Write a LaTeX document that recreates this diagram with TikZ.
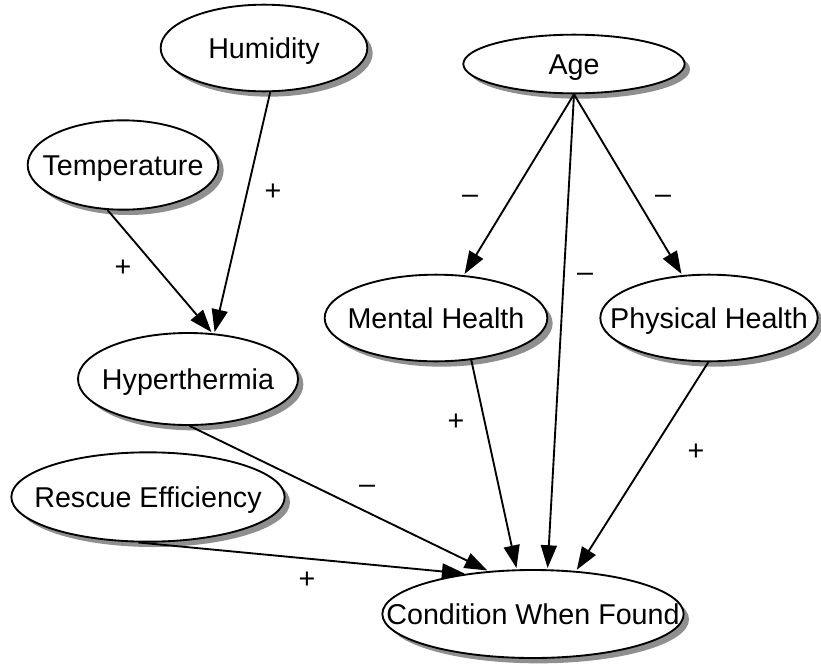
\documentclass[tikz,border=0pt]{standalone}
\usepackage{fontspec}
\setmainfont{Liberation Sans}
\usetikzlibrary{shapes.geometric, shadows, arrows.meta}

\begin{document}
\begin{tikzpicture}[x=0.75pt, y=-0.75pt,
    var/.style={draw, ellipse, fill=white, line width=1.4pt, inner sep=0pt,
        drop shadow={shadow xshift=4pt, shadow yshift=-4pt, fill=black!55, opacity=0.8},
        font=\fontsize{21.5}{25}\selectfont, text height=15.5pt, text depth=0pt,
        execute at begin node={\hbox to 0pt\bgroup\hss},
        execute at end node={\hss\egroup}},
    sign/.style={font=\fontsize{21.5}{25}\selectfont, inner sep=0pt,
        text height=15.5pt, text depth=0pt},
    link/.style={line width=1.4pt, shorten >=1pt, -{Triangle[length=17pt, width=12pt]}}]
    \useasboundingbox (0,0) rectangle (821,664);

    \node[var, minimum width=155pt, minimum height=65pt] (hum) at (264,48) {Humidity};
    \node[var, minimum width=143pt, minimum height=67pt] (temp) at (123,165) {Temperature};
    \node[var, minimum width=166pt, minimum height=44pt] (age) at (574,64) {Age};
    \node[var, minimum width=167pt, minimum height=65pt] (ment) at (436,318) {Mental Health};
    \node[var, minimum width=163pt, minimum height=65pt] (phys) at (709,318) {Physical Health};
    \node[var, minimum width=165pt, minimum height=69pt] (hyp) at (188,379) {Hyperthermia};
    \node[var, minimum width=205pt, minimum height=67pt] (resc) at (148,497) {Rescue Efficiency};
    \node[var, minimum width=226pt, minimum height=66pt] (cond) at (533,614) {Condition When Found};

    \draw[link] (hum.-82) -- (hyp.60);
    \draw[link] (temp.-109) -- (hyp.62);
    \draw[link] (age.south) -- (ment.57);
    \draw[link] (age.south) -- (phys.122);
    \draw[link] (age.south) -- (cond.72);
    \draw[link] (ment.-50) -- (cond.110);
    \draw[link] (phys.-91) -- (cond.45);
    \draw[link] (hyp.-88) -- (cond.136);
    \draw[link] (resc.-102) -- (cond.149);

    \node[sign] (s1) at (273,190) {+};
    \node[sign] (s2) at (123,266) {+};
    \node[sign] (s3) at (470,193) {–};
    \node[sign] (s4) at (663,193) {–};
    \node[sign] (s5) at (585,271) {–};
    \node[sign] (s6) at (456,420) {+};
    \node[sign] (s7) at (696,450) {+};
    \node[sign] (s8) at (367,483) {–};
    \node[sign] (s9) at (307,578) {+};
\end{tikzpicture}
\end{document}
